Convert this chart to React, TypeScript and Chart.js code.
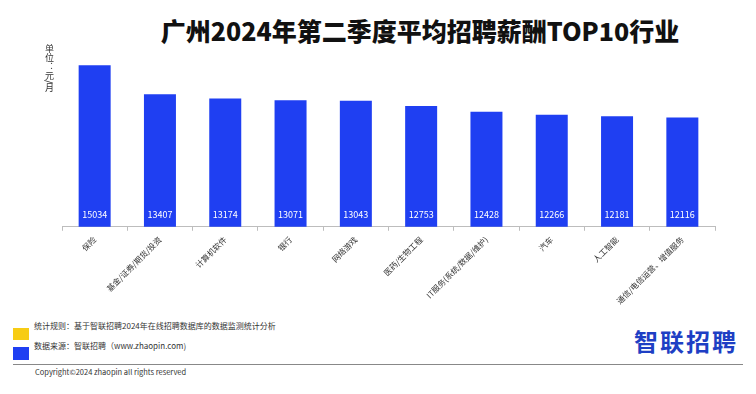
import React, { useEffect, useRef } from "react";
import { Chart, registerables } from "chart.js";

Chart.register(...registerables);

const categories = [
  "保险",
  "基金/证券/期货/投资",
  "计算机软件",
  "银行",
  "网络游戏",
  "医药/生物工程",
  "IT服务(系统/数据/维护)",
  "汽车",
  "人工智能",
  "通信/电信运营、增值服务",
];
const salaries = [15034, 13407, 13174, 13071, 13043, 12753, 12428, 12266, 12181, 12116];

const titleText = "广州2024年第二季度平均招聘薪酬TOP10行业";
const unitText = "单位：元/月";
const noteRule = "统计规则：基于智联招聘2024年在线招聘数据库的数据监测统计分析";
const noteSource = "数据来源：智联招聘（www.zhaopin.com)";
const copyright = "Copyright©2024 zhaopin all rights reserved";
const logoText = "智联招聘";

const BLUE = "#1f3ff2";
const FONT = "'Noto Sans CJK SC', 'Noto Sans', sans-serif";

const valueLabels = {
  id: "valueLabels",
  afterDatasetsDraw(chart: any) {
    const { ctx } = chart;
    const meta = chart.getDatasetMeta(0);
    const bottom = chart.chartArea.bottom;
    ctx.save();
    ctx.fillStyle = "#ffffff";
    ctx.font = `9px ${FONT}`;
    ctx.textAlign = "center";
    ctx.textBaseline = "middle";
    meta.data.forEach((bar: any, i: number) => {
      ctx.fillText(String(salaries[i]), bar.x, bottom - 12);
    });
    ctx.restore();
  },
};

export default function App() {
  const ref = useRef<HTMLCanvasElement>(null);
  useEffect(() => {
    document.body.style.margin = "0";
    const chart = new Chart(ref.current!, {
      type: "bar",
      data: {
        labels: categories,
        datasets: [
          {
            data: salaries,
            backgroundColor: BLUE,
            barPercentage: 0.49,
            categoryPercentage: 1,
          },
        ],
      },
      options: {
        animation: false,
        responsive: false,
        maintainAspectRatio: false,
        layout: { padding: { left: 62, right: 41, top: 0, bottom: 0 } },
        plugins: { legend: { display: false }, tooltip: { enabled: false } },
        scales: {
          y: { display: false, min: 6000, max: 16000 },
          x: {
            offset: true,
            border: { display: true, color: "#bdbdbd", width: 1 },
            grid: {
              display: true,
              offset: true,
              drawOnChartArea: false,
              drawTicks: true,
              tickLength: 4,
              color: "#bdbdbd",
            },
            ticks: {
              minRotation: 45,
              maxRotation: 45,
              autoSkip: false,
              padding: 4,
              color: "#333333",
              font: { size: 8, family: FONT },
            },
          },
        },
      },
      plugins: [valueLabels],
    });
    return () => chart.destroy();
  }, []);

  return (
    <div style={{ position: "relative", width: 756, height: 394, background: "#fff", overflow: "hidden", fontFamily: FONT }}>
      <canvas ref={ref} width={756} height={262} style={{ position: "absolute", left: 0, top: 48, width: 756, height: 262 }} />
      <div style={{ position: "absolute", left: 0, width: 840, top: 13, textAlign: "center", fontSize: 25, fontWeight: 900, color: "#111", lineHeight: "34px", letterSpacing: 0 }}>
        {titleText}
      </div>
      <div style={{ position: "absolute", left: 44, top: 44, writingMode: "vertical-rl", fontSize: 9, color: "#333", lineHeight: "10px" }}>
        {unitText}
      </div>
      <div style={{ position: "absolute", left: 13, top: 328, width: 16, height: 12, background: "#f7cc14" }} />
      <div style={{ position: "absolute", left: 13, top: 347, width: 16, height: 13, background: BLUE }} />
      <div style={{ position: "absolute", left: 34, top: 320, fontSize: 8, color: "#333", lineHeight: "12px", whiteSpace: "nowrap" }}>{noteRule}</div>
      <div style={{ position: "absolute", left: 34, top: 340, fontSize: 8, color: "#333", lineHeight: "12px", whiteSpace: "nowrap" }}>{noteSource}</div>
      <div style={{ position: "absolute", left: 13, top: 364, width: 730, height: 1, background: "#888" }} />
      <div style={{ position: "absolute", left: 35, top: 367, fontSize: 7.5, color: "#333", lineHeight: "10px", whiteSpace: "nowrap" }}>{copyright}</div>
      <div style={{ position: "absolute", left: 634, top: 325, fontSize: 24, fontWeight: 700, color: "#1e3fc4", lineHeight: "32px", letterSpacing: 2, whiteSpace: "nowrap" }}>{logoText}</div>
    </div>
  );
}
